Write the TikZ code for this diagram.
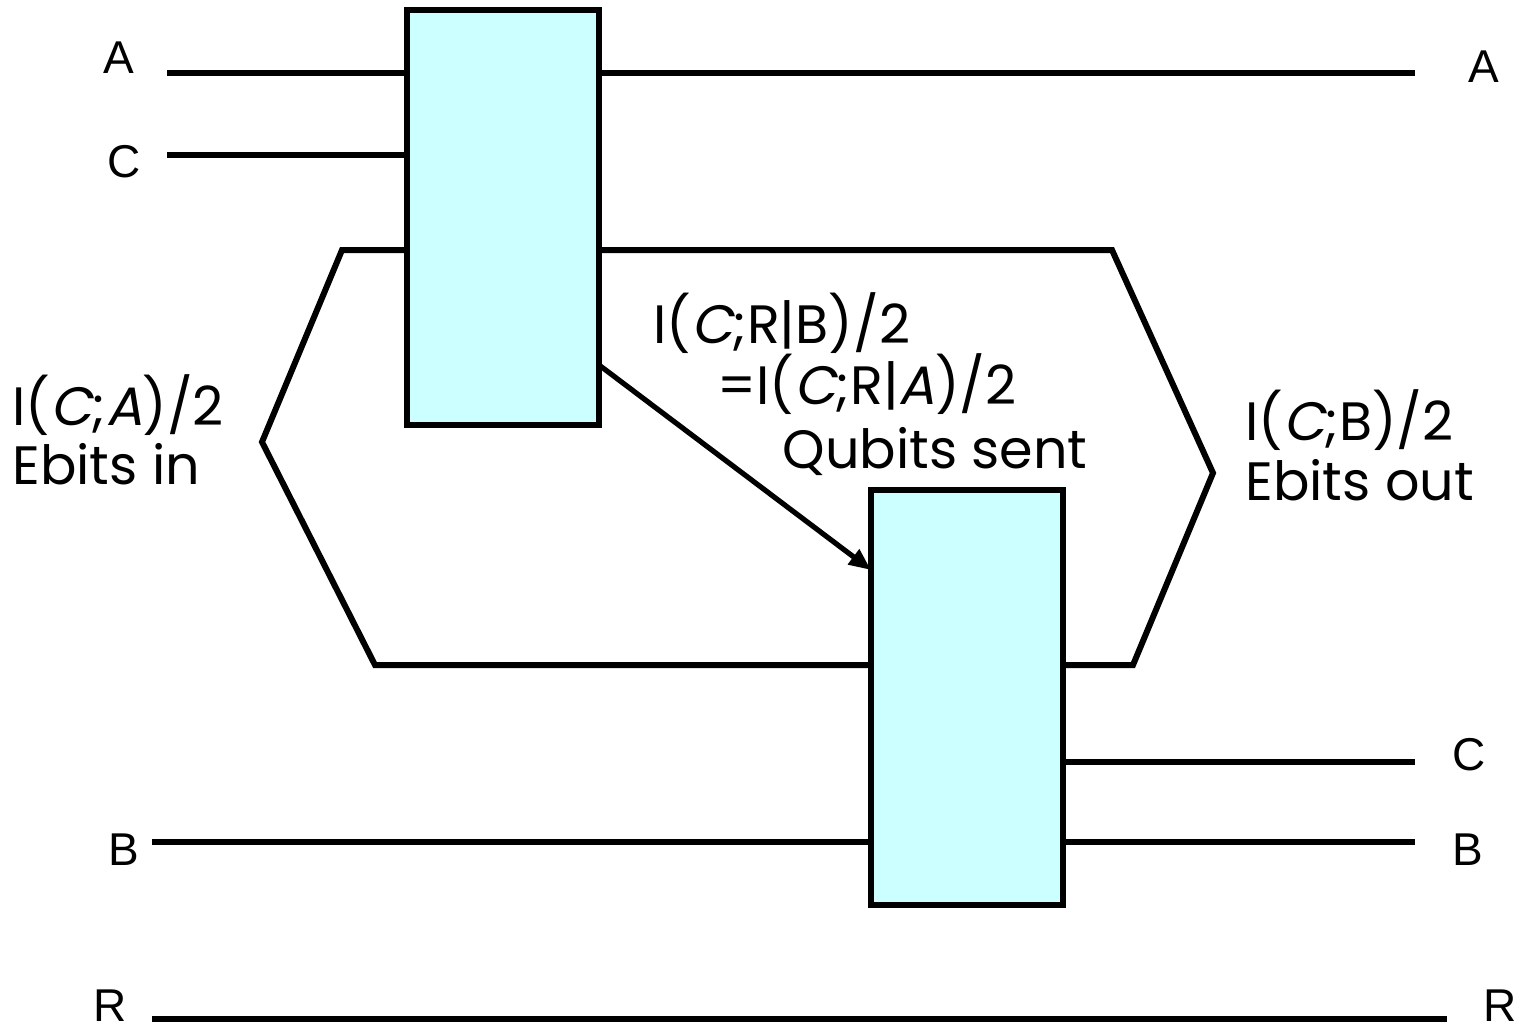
\documentclass[tikz,border=0pt]{standalone}
\usepackage{fontspec}
\setmainfont{Liberation Sans}
\newfontfamily\comicfont{Poppins}
\newfontfamily\comicslant[FakeSlant=0.2]{Poppins}
\newcommand{\slt}[1]{{\comicslant #1}}
\usetikzlibrary{arrows.meta}
\definecolor{gatecyan}{HTML}{CCFFFF}
\begin{document}
\begin{tikzpicture}[x=0.5pt,y=-0.5pt,
  wire/.style={line width=3pt},
  gatebox/.style={draw, line width=3pt, fill=gatecyan, inner sep=0pt, outer sep=0pt,
    minimum width=96pt, minimum height=207.5pt},
  lab/.style={font=\fontsize{23}{27}\selectfont, inner sep=0pt, anchor=base west},
  hand/.style={font=\comicfont\fontsize{27}{32}\selectfont, inner sep=0pt, anchor=base west}]
\useasboundingbox (0,0) rectangle (1521,1028);

% coordinates
\coordinate (Ain) at (167,73);
\coordinate (Aout) at (1415,73);
\coordinate (Cin) at (167,155);
\coordinate (Cout) at (1415,762);
\coordinate (Bin) at (152,842);
\coordinate (Bout) at (1415,842);
\coordinate (Rin) at (152,1019);
\coordinate (Rout) at (1447,1019);
\coordinate (h1) at (342,250);
\coordinate (h2) at (262,442);
\coordinate (h3) at (375,665);
\coordinate (h4) at (1112,250);
\coordinate (h5) at (1213,473);
\coordinate (h6) at (1133,665);
\coordinate (qs) at (600,365);
\coordinate (qt) at (871,570);

% wires
\draw[wire] (Ain) -- (503,73);
\draw[wire] (503,73) -- (Aout);
\draw[wire] (Cin) -- (503,155);
\draw[wire] (h1 -| 503,0) -- (h1) -- (h2) -- (h3) -- (h3 -| 967,0);
\draw[wire] (h4 -| 503,0) -- (h4) -- (h5) -- (h6) -- (h6 -| 967,0);
\draw[wire] (Cout -| 967,0) -- (Cout);
\draw[wire] (Bin) -- (Bout);
\draw[wire] (Rin) -- (Rout);

% gates
\node[gatebox] (b1) at (503,217.5) {};
\node[gatebox] (b2) at (967,697.5) {};

% arrow
\draw[line width=2.6pt, -{Triangle[length=11pt,width=9pt]}] (b1.east |- qs) -- (b2.west |- qt);

% wire labels
\node[lab] (lA) at (103,73) {A};
\node[lab] (lC) at (107,177) {C};
\node[lab] (lB) at (108,865) {B};
\node[lab] (lR) at (93,1021) {R};
\node[lab] (rA) at (1468,82) {A};
\node[lab] (rC) at (1452,770) {C};
\node[lab] (rB) at (1452,865) {B};
\node[lab] (rR) at (1483,1021) {R};

% handwritten labels
\node[hand] (t1) at (12,425) {I(\slt{C};\slt{A})/2};
\node[hand] (t2) at (12,484) {Ebits in};
\node[hand] (t3) at (653,343) {I(\slt{C};R|B)/2};
\node[hand] (t4) at (717,404) {=I(\slt{C};R|\slt{A})/2};
\node[hand, anchor=base east] (t5) at (1088,468) {Qubits sent};
\node[hand] (t6) at (1245,440) {I(\slt{C};B)/2};
\node[hand] (t7) at (1245,500) {Ebits out};
\end{tikzpicture}
\end{document}
